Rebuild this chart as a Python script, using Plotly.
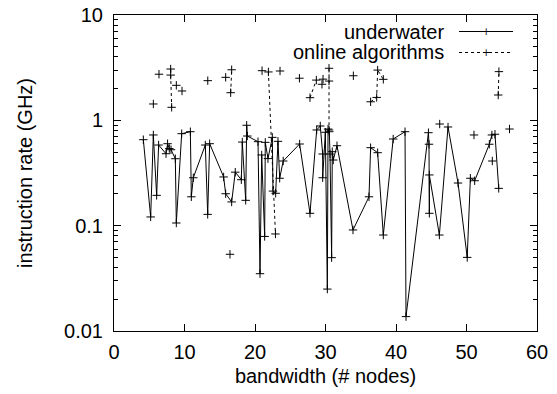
import plotly.graph_objects as go

# underwater series (x: bandwidth, y: instruction rate GHz)
uw_x = [4.16, 5.2, 5.58, 6.05, 6.33, 7.38, 7.6, 7.85, 8.09, 8.7, 8.84, 9.6, 10.83, 10.97, 11.25,
        12.95, 13.29, 13.57, 15.55, 15.84, 16.69, 17.2, 18.06, 18.2, 18.68, 18.82, 18.91,
        20.43, 20.71, 20.95, 21.37, 21.46, 21.84, 22.46, 22.55, 22.93, 23.26, 23.5, 24.0,
        26.33, 27.8, 28.75, 29.26, 29.6, 29.6, 29.98, 30.26, 30.36, 30.54, 30.64, 30.87,
        30.96, 31.1, 31.63, 33.9, 36.17, 36.4, 37.4, 38.2, 39.6, 41.28, 41.42, 44.6, 44.68,
        44.73, 44.73, 46.15, 47.38, 48.8, 50.1, 50.55, 51.16, 53.24, 53.6, 54.04, 54.57]
uw_y = [0.655, 0.121, 0.726, 0.194, 0.583, 0.482, 0.60, 0.54, 0.526, 0.432, 0.106, 0.747, 0.78,
        0.188, 0.285, 0.583, 0.128, 0.60, 0.29, 0.201, 0.168, 0.322, 0.273, 0.622, 0.174,
        0.898, 0.71, 0.627, 0.035, 0.469, 0.079, 0.618, 0.433, 0.689, 0.213, 0.203, 0.632,
        0.282, 0.411, 0.596, 0.131, 0.81, 0.884, 0.479, 0.285, 0.77, 0.025, 0.827, 0.78,
        0.479, 0.0497, 0.504, 0.42, 0.574, 0.091, 0.188, 0.55, 0.493, 0.0815, 0.665, 0.78,
        0.0137, 0.763, 0.593, 0.131, 0.303, 0.0815, 0.865, 0.254, 0.050, 0.282, 0.267,
        0.593, 0.726, 0.738, 0.226]

# online algorithms series (None = break in the line)
oa_x = [5.58, None, 6.38, None, 8.04, 8.04, 8.18, None, 8.84, None, 9.65, None, 13.3, None,
        15.84, None, 16.45, None, 16.55, 16.69, None, 21.0, None, 21.9, 22.9, None, 23.55, None,
        26.3, None, 27.8, 28.7, None, 29.5, None, 29.65, None, 30.5, 30.5, 30.5, None, 33.95, None,
        36.4, 37.26, 37.4, 38.2, None, 46.2, None, 51.06, None, 53.66, None, 54.5, 54.6, None, 56.1]
oa_y = [1.43, None, 2.74, None, 3.07, 2.69, 1.33, None, 2.15, None, 1.90, None, 2.38, None,
        2.56, None, 0.0535, None, 1.83, 3.02, None, 2.96, None, 2.88, 0.0834, None, 2.94, None,
        2.51, None, 1.64, 2.41, None, 2.20, None, 2.46, None, 3.12, 2.36, 0.81, None, 2.65, None,
        1.50, 1.65, 3.0, 2.45, None, 0.923, None, 0.726, None, 0.411, None, 1.74, 2.90, None, 0.827]

x_ticks = [0, 10, 20, 30, 40, 50, 60]
y_ticks = [0.01, 0.1, 1, 10]
y_ticktext = ["0.01", "0.1", "1", "10"]
y_minor = [m * 10 ** e for e in (-2, -1, 0) for m in range(2, 10)]

FONT = "Liberation Sans, Arial, Helvetica, sans-serif"
FS = 20
mk = dict(symbol="cross-thin", size=6, line=dict(width=1, color="black"), color="black")

fig = go.Figure()
fig.add_trace(go.Scatter(x=uw_x, y=uw_y, mode="lines+markers", name="underwater",
                         line=dict(color="black", width=1), marker=mk, showlegend=False))
fig.add_trace(go.Scatter(x=oa_x, y=oa_y, mode="lines+markers", name="online algorithms",
                         line=dict(color="black", width=1, dash="dot"), marker=mk,
                         connectgaps=False, showlegend=False))

# gnuplot-style key (text right, sample on the right)
key = [("underwater", "solid", 0.0), ("online algorithms", "dot", 1.0)]
for label, dash, i in key:
    yk = 1 - (16.5 + 21 * i) / 316
    fig.add_annotation(xref="paper", yref="paper", x=(446 - 114) / 423, y=yk, text=label,
                       showarrow=False, xanchor="right", yanchor="middle",
                       font=dict(family=FONT, size=FS, color="black"))
    fig.add_shape(type="line", xref="paper", yref="paper",
                  x0=(459 - 114) / 423, x1=(513 - 114) / 423, y0=yk, y1=yk,
                  line=dict(color="black", width=1, dash=dash))
    fig.add_annotation(xref="paper", yref="paper", x=(486 - 114) / 423, y=yk, text="+",
                       showarrow=False, xanchor="center", yanchor="middle",
                       font=dict(family="DejaVu Sans", size=10, color="black"))

axis_common = dict(showgrid=False, zeroline=False, showline=True, linecolor="black",
                   linewidth=1, mirror="allticks", ticks="inside", ticklen=7,
                   tickcolor="black", automargin=False,
                   tickfont=dict(family=FONT, size=FS, color="black"))
fig.update_xaxes(range=[0, 60], tickvals=x_ticks, ticklabelstandoff=3,
                 title=dict(text="bandwidth (# nodes)", font=dict(family=FONT, size=FS, color="black"),
                            standoff=6),
                 **axis_common)
fig.update_yaxes(type="log", range=[-2, 1], tickvals=y_ticks, ticktext=y_ticktext,
                 ticklabelstandoff=6,
                 minor=dict(tickvals=y_minor, ticks="inside", ticklen=4, tickcolor="black"),
                 title=dict(text="instruction rate (GHz)", font=dict(family=FONT, size=FS, color="black"),
                            standoff=26),
                 **axis_common)
fig.update_layout(width=557, height=394, margin=dict(l=114, r=20, t=15, b=63),
                  plot_bgcolor="white", paper_bgcolor="white", showlegend=False)
fig.write_html("out.html")
